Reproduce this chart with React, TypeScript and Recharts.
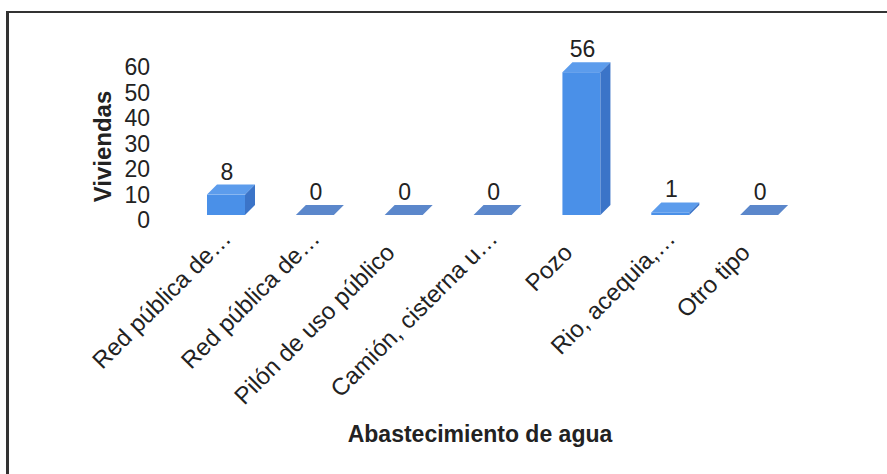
import { BarChart, Bar, XAxis, YAxis, LabelList } from "recharts";

// Abastecimiento de agua por vivienda
const categories = [
  "Red pública de…",
  "Red pública de…",
  "Pilón de uso público",
  "Camión, cisterna u…",
  "Pozo",
  "Rio, acequia,…",
  "Otro tipo",
];
const viviendas = [8, 0, 0, 0, 56, 1, 0];
const yTicks = [0, 10, 20, 30, 40, 50, 60];

const data = categories.map((name, i) => ({ name, value: viviendas[i] }));

const FONT = "'Liberation Sans', Arial, sans-serif";
const DEPTH = 10;
const LIFT = 5;

// pseudo 3D column: front face, top face and right side
const Bar3D = (props: any) => {
  const { x, y, width, height } = props;
  const yt = y - LIFT;
  const yb = y + height - LIFT;
  const d = DEPTH;
  if (height < 0.5) {
    return (
      <polygon
        points={`${x},${yb} ${x + width},${yb} ${x + width + d},${yb - d} ${x + d},${yb - d}`}
        fill="#5b87cb"
      />
    );
  }
  return (
    <g>
      <rect x={x} y={yt} width={width} height={yb - yt} fill="#4a90e8" />
      <polygon
        points={`${x},${yt} ${x + d},${yt - d} ${x + width + d},${yt - d} ${x + width},${yt}`}
        fill="#5c9cec"
      />
      <polygon
        points={`${x + width},${yt} ${x + width + d},${yt - d} ${x + width + d},${yb - d} ${x + width},${yb}`}
        fill="#3b74c8"
      />
    </g>
  );
};

const ValueLabel = (props: any) => {
  const { x, y, width, value } = props;
  return (
    <text
      x={x + width / 2 + 1}
      y={y - LIFT - DEPTH - 5}
      textAnchor="middle"
      fontSize={23}
      fontFamily={FONT}
      fill="#222"
    >
      {value}
    </text>
  );
};

// rotated category label; cut-off names sit a little further along the diagonal
const CategoryTick = (props: any) => {
  const { x, y, payload } = props;
  const cut = String(payload.value).endsWith("…") ? 14 : 0;
  const tx = x - 8 + cut;
  const ty = y + 34 - cut;
  return (
    <text
      x={tx}
      y={ty}
      textAnchor="end"
      fontSize={24}
      fontFamily={FONT}
      fill="#222"
      transform={`rotate(-45 ${tx} ${ty})`}
    >
      {payload.value}
    </text>
  );
};

export default function App() {
  return (
    <div style={{ position: "absolute", left: 0, top: 0, width: 887, height: 474, background: "#fff" }}>
      <div
        style={{
          position: "absolute",
          left: 6,
          top: 11,
          width: 881,
          height: 463,
          borderTop: "2px solid #333",
          borderLeft: "3px solid #333",
          boxSizing: "border-box",
        }}
      />
      <BarChart
        width={887}
        height={474}
        data={data}
        margin={{ top: 67, right: 83, bottom: 10, left: 80 }}
        barCategoryGap={0}
      >
        <XAxis
          dataKey="name"
          axisLine={false}
          tickLine={false}
          tickSize={0}
          tickMargin={0}
          height={244}
          interval={0}
          tick={<CategoryTick />}
          label={{
            value: "Abastecimiento de agua",
            position: "insideBottom",
            offset: 22,
            dx: -13,
            fontSize: 23,
            fontWeight: "bold",
            fontFamily: FONT,
            fill: "#222",
          }}
        />
        <YAxis
          domain={[0, 60]}
          ticks={yTicks}
          interval={0}
          axisLine={false}
          tickLine={false}
          tickSize={0}
          tickMargin={32}
          width={102}
          tick={{ fontSize: 23, fontFamily: FONT, fill: "#222" }}
          label={{
            value: "Viviendas",
            angle: -90,
            position: "insideLeft",
            offset: 22,
            dy: 3,
            fontSize: 24,
            fontWeight: "bold",
            fontFamily: FONT,
            fill: "#222",
            style: { textAnchor: "middle" },
          }}
        />
        <Bar dataKey="value" barSize={38} shape={<Bar3D />} isAnimationActive={false}>
          <LabelList dataKey="value" content={<ValueLabel />} />
        </Bar>
      </BarChart>
    </div>
  );
}
